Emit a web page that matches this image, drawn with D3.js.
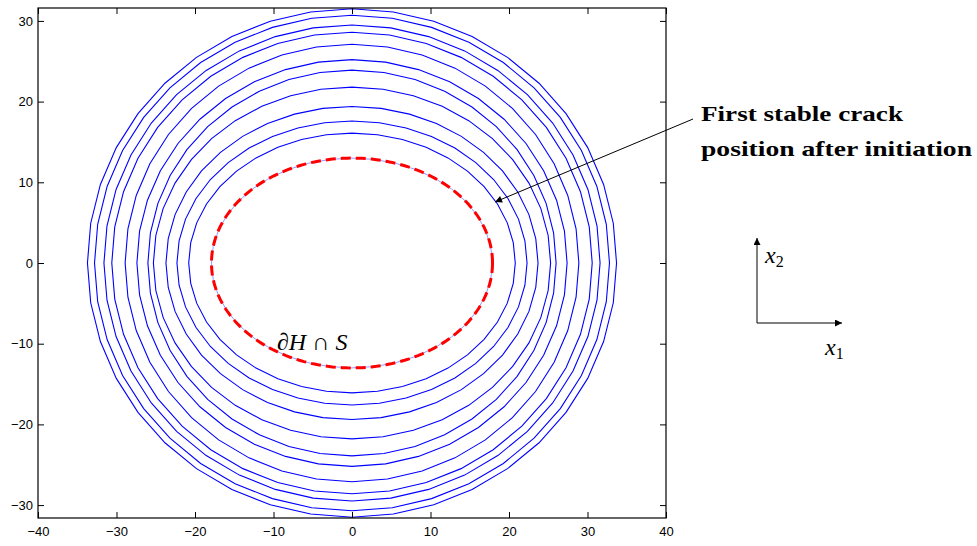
<!DOCTYPE html>
<html>
<head>
<meta charset="utf-8">
<script src="https://cdn.jsdelivr.net/npm/d3@7"></script>
<style>
  html, body { margin: 0; padding: 0; background: #fff; }
  svg { display: block; }
</style>
</head>
<body>
<svg id="chart" width="977" height="546"></svg>
<script>
// ---- data ----
const xTicks = [-40, -30, -20, -10, 0, 10, 20, 30, 40];
const yTicks = [-30, -20, -10, 0, 10, 20, 30];
// semi-axes of the blue crack-front contours (x half-width, y half-height)
const contourA = [20.8, 22.3, 23.7, 25.3, 26.0, 27.4, 28.9, 30.6, 31.6, 32.8, 33.7];
const contourB = [16.1, 17.6, 19.4, 21.8, 23.9, 25.2, 27.1, 28.6, 29.5, 30.7, 31.5];
// first stable crack position (red dashed) semi-axes
const crackA = [17.9];
const crackB = [13.0];
const polygonSides = 40;

const svg = d3.select("#chart");
const L = 38, R = 666, T = 8, B = 518;
const x = d3.scaleLinear().domain([-40, 40]).range([L, R]);
const y = d3.scaleLinear().domain([-31.6, 31.6]).range([B, T]);

function ellipsePts(a, b, n) {
  return d3.range(n).map(i => {
    const t = 2 * Math.PI * i / n;
    return [a * Math.cos(t), b * Math.sin(t)];
  });
}
const line = d3.line().x(d => x(d[0])).y(d => y(d[1])).curve(d3.curveLinearClosed);

const defs = svg.append("defs");
defs.append("clipPath").attr("id", "clip")
  .append("rect").attr("x", L).attr("y", T).attr("width", R - L).attr("height", B - T);

const plot = svg.append("g").attr("clip-path", "url(#clip)");

// faint blue contour under the red one
plot.append("path")
  .attr("d", line(ellipsePts(crackA[0], crackB[0], polygonSides)))
  .attr("fill", "none").attr("stroke", "#9999ff").attr("stroke-width", 1);

plot.selectAll("path.contour")
  .data(contourA.map((a, i) => ({ a, b: contourB[i] })))
  .join("path")
  .attr("class", "contour")
  .attr("d", d => line(ellipsePts(d.a, d.b, polygonSides)))
  .attr("fill", "none")
  .attr("stroke", "#0000ff")
  .attr("stroke-width", 1.1);

plot.append("path")
  .attr("d", line(ellipsePts(crackA[0], crackB[0], 180)))
  .attr("fill", "none")
  .attr("stroke", "#ff0000")
  .attr("stroke-width", 3)
  .attr("stroke-dasharray", "10,5");

// axes
const tickLen = 6;
const fmt = d => d < 0 ? "\u2212" + Math.abs(d) : d;
const axB = svg.append("g").attr("transform", `translate(0,${B})`)
  .call(d3.axisBottom(x).tickValues(xTicks).tickSizeInner(-tickLen).tickSizeOuter(0).tickPadding(9).tickFormat(fmt));
const axT = svg.append("g").attr("transform", `translate(0,${T})`)
  .call(d3.axisTop(x).tickValues(xTicks).tickSizeInner(-tickLen).tickSizeOuter(0).tickFormat(""));
const axL = svg.append("g").attr("transform", `translate(${L},0)`)
  .call(d3.axisLeft(y).tickValues(yTicks).tickSizeInner(-tickLen).tickSizeOuter(0).tickPadding(5).tickFormat(fmt));
const axR = svg.append("g").attr("transform", `translate(${R},0)`)
  .call(d3.axisRight(y).tickValues(yTicks).tickSizeInner(-tickLen).tickSizeOuter(0).tickFormat(""));

[axB, axT, axL, axR].forEach(g => {
  g.select(".domain").remove();
  g.selectAll(".tick line").attr("stroke", "#000").attr("stroke-width", 1);
  g.selectAll("text").attr("font-family", "Liberation Sans, Arial, sans-serif")
    .attr("font-size", 13).attr("fill", "#000");
});

svg.append("rect").attr("x", L).attr("y", T).attr("width", R - L).attr("height", B - T)
  .attr("fill", "none").attr("stroke", "#000").attr("stroke-width", 1.2);

// arrow marker
defs.append("marker").attr("id", "arr").attr("viewBox", "0 0 10 10")
  .attr("refX", 10).attr("refY", 5).attr("markerWidth", 10).attr("markerHeight", 7)
  .attr("markerUnits", "userSpaceOnUse").attr("orient", "auto")
  .append("path").attr("d", "M0,0 L10,5 L0,10 z").attr("fill", "#000");

// annotation arrow
svg.append("line").attr("x1", 693).attr("y1", 119).attr("x2", 495).attr("y2", 202)
  .attr("stroke", "#000").attr("stroke-width", 1).attr("marker-end", "url(#arr)");

const serif = "Liberation Serif, DejaVu Serif, serif";
svg.append("text").attr("x", 701).attr("y", 121)
  .attr("font-family", serif).attr("font-weight", "bold").attr("font-size", 22)
  .attr("textLength", 202).attr("lengthAdjust", "spacingAndGlyphs")
  .text("First stable crack");
svg.append("text").attr("x", 701).attr("y", 156)
  .attr("font-family", serif).attr("font-weight", "bold").attr("font-size", 22)
  .attr("textLength", 271).attr("lengthAdjust", "spacingAndGlyphs")
  .text("position after initiation");

// ∂H ∩ S label
const lab = svg.append("text").attr("x", 277).attr("y", 350)
  .attr("font-family", serif).attr("font-size", 24).attr("fill", "#000");
lab.append("tspan").text("\u2202");
lab.append("tspan").attr("font-style", "italic").text("H");
lab.append("tspan").text(" \u2229 ");
lab.append("tspan").attr("font-style", "italic").text("S");

// coordinate axes indicator
svg.append("line").attr("x1", 757).attr("y1", 323).attr("x2", 757).attr("y2", 238)
  .attr("stroke", "#000").attr("stroke-width", 1).attr("marker-end", "url(#arr)");
svg.append("line").attr("x1", 757).attr("y1", 323).attr("x2", 842).attr("y2", 323)
  .attr("stroke", "#000").attr("stroke-width", 1).attr("marker-end", "url(#arr)");

const x2 = svg.append("text").attr("x", 765).attr("y", 263)
  .attr("font-family", serif).attr("font-size", 24);
x2.append("tspan").attr("font-style", "italic").text("x");
x2.append("tspan").attr("font-size", 16).attr("dy", 4).text("2");

const x1 = svg.append("text").attr("x", 825).attr("y", 355)
  .attr("font-family", serif).attr("font-size", 24);
x1.append("tspan").attr("font-style", "italic").text("x");
x1.append("tspan").attr("font-size", 16).attr("dy", 4).text("1");
</script>
</body>
</html>
